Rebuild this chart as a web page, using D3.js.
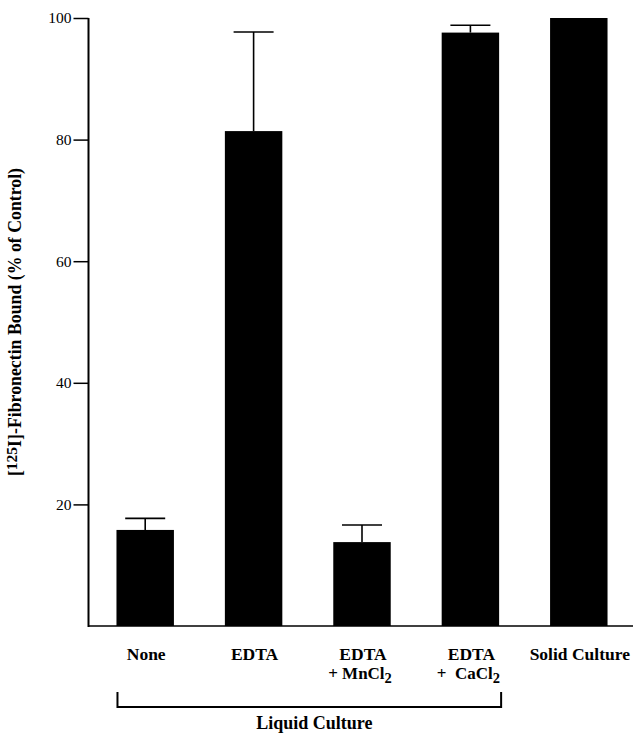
<!DOCTYPE html>
<html>
<head>
<meta charset="utf-8">
<script src="https://cdn.jsdelivr.net/npm/d3@7"></script>
<style>
  body { margin: 0; background: #fff; }
  svg { display: block; font-family: "Liberation Serif", "Times New Roman", serif; }
</style>
</head>
<body>
<svg width="639" height="737"></svg>
<script>
// values
const categories = ['None', 'EDTA', 'EDTA+MnCl2', 'EDTA+CaCl2', 'Solid Culture'];
const boundValues = [15.8, 81.4, 13.8, 97.6, 100];
const errorTops = [17.7, 97.7, 16.6, 98.8, null];
const yTicks = [20, 40, 60, 80, 100];
// label lines per category; second line is [text, subscript]
const firstLines = ['None', 'EDTA', 'EDTA', 'EDTA', 'Solid Culture'];
const secondLines = [null, null, ['+ MnCl', '2'], ['+\u00a0\u00a0CaCl', '2'], null];

const svg = d3.select('svg');

const x = d3.scaleBand().domain(categories).range([91, 633])
  .paddingInner(0.47).paddingOuter(0.235);
const y = d3.scaleLinear().domain([0, 100]).range([626, 18]);
const cx = d => x(d) + x.bandwidth() / 2;

// bars
svg.selectAll('rect.bar').data(categories).enter().append('rect')
  .attr('class', 'bar')
  .attr('x', d => x(d))
  .attr('width', x.bandwidth())
  .attr('y', (d, i) => y(boundValues[i]))
  .attr('height', (d, i) => y(0) - y(boundValues[i]))
  .attr('fill', '#000');

// error bars (upper only)
const errs = categories.map((c, i) => ({c: c, v: boundValues[i], e: errorTops[i]})).filter(d => d.e != null);
const eg = svg.selectAll('g.err').data(errs).enter().append('g').attr('class', 'err')
  .attr('stroke', '#000').attr('stroke-width', 1.6);
eg.append('line')
  .attr('x1', d => cx(d.c)).attr('x2', d => cx(d.c))
  .attr('y1', d => y(d.v)).attr('y2', d => y(d.e));
eg.append('line')
  .attr('x1', d => cx(d.c) - 20).attr('x2', d => cx(d.c) + 20)
  .attr('y1', d => y(d.e)).attr('y2', d => y(d.e));

// y axis
const yAxis = d3.axisLeft(y).tickValues(yTicks).tickSize(15).tickPadding(2);
const yg = svg.append('g').attr('transform', 'translate(88.5,0)').call(yAxis);
yg.select('.domain').remove();
yg.selectAll('.tick line').attr('stroke', '#000').attr('stroke-width', 1.5);
yg.selectAll('.tick text').attr('font-family', '"Liberation Serif", serif')
  .attr('font-size', 15.5).attr('fill', '#000');
svg.append('line').attr('x1', 88.5).attr('x2', 88.5).attr('y1', y(100)).attr('y2', y(0) + 1)
  .attr('stroke', '#000').attr('stroke-width', 2);

// x axis baseline
svg.append('line').attr('x1', 88).attr('x2', 633).attr('y1', y(0)).attr('y2', y(0))
  .attr('stroke', '#000').attr('stroke-width', 1.6);

// category labels, first line
svg.selectAll('text.cat').data(categories).enter().append('text')
  .attr('class', 'cat')
  .attr('x', d => cx(d) + 1).attr('y', 660)
  .attr('text-anchor', 'middle')
  .attr('font-weight', 'bold').attr('font-size', 17.5)
  .text((d, i) => firstLines[i]);

// second line with subscript
const l2 = svg.selectAll('text.cat2').data(categories.filter((d, i) => secondLines[i])).enter()
  .append('text').attr('class', 'cat2')
  .attr('x', d => cx(d) - 2).attr('y', 679)
  .attr('text-anchor', 'middle')
  .attr('font-weight', 'bold').attr('font-size', 17);
l2.append('tspan').text(d => secondLines[categories.indexOf(d)][0]);
l2.append('tspan').attr('dy', 4).attr('font-size', 14.5).text(d => secondLines[categories.indexOf(d)][1]);

// bracket for liquid culture
const bx1 = x('None') + 1, bx2 = x('EDTA+CaCl2') + x.bandwidth() + 2;
svg.append('path')
  .attr('d', 'M' + bx1 + ',692 V707 H' + bx2 + ' V692')
  .attr('fill', 'none').attr('stroke', '#000').attr('stroke-width', 2);
svg.append('text').attr('x', (bx1 + bx2) / 2 + 5).attr('y', 729)
  .attr('text-anchor', 'middle').attr('font-weight', 'bold').attr('font-size', 18)
  .text('Liquid Culture');

// y axis title
const yt = svg.append('text')
  .attr('transform', 'translate(21,322) rotate(-90)')
  .attr('text-anchor', 'middle').attr('font-weight', 'bold').attr('font-size', 17.8);
yt.append('tspan').text('[');
yt.append('tspan').attr('dy', -4).attr('font-size', 15.5).text('125');
yt.append('tspan').attr('dy', 4).text('I]-Fibronectin Bound (% of Control)');
</script>
</body>
</html>
